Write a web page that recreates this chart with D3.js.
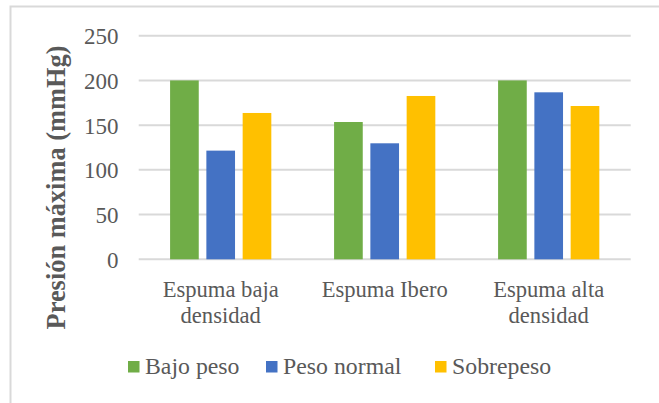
<!DOCTYPE html>
<html>
<head>
<meta charset="utf-8">
<script src="https://cdn.jsdelivr.net/npm/d3@7"></script>
<style>
  html, body { margin: 0; padding: 0; background: #fff; }
  svg { display: block; }
  svg text { font-family: "Liberation Serif", "Times New Roman", Times, serif; }
</style>
</head>
<body>
<svg id="chart" width="659" height="403"></svg>
<script>
const categories = [["Espuma baja", "densidad"], ["Espuma Ibero"], ["Espuma alta", "densidad"]];
const seriesNames = ["Bajo peso", "Peso normal", "Sobrepeso"];
const colors = ["#70ad47", "#4472c4", "#ffc000"];
const bajoPeso = [200, 153.5, 200];
const pesoNormal = [121.5, 129.7, 186.7];
const sobrepeso = [163.6, 182.6, 171.4];
const yTicks = [0, 50, 100, 150, 200, 250];
const yTitle = "Presión máxima (mmHg)";

(function () {
const series = [bajoPeso, pesoNormal, sobrepeso];
const svg = d3.select("#chart");
const textColor = "#595959";

// chart border
svg.append("rect").attr("x", 10.5).attr("y", 6.5).attr("width", 660).attr("height", 410)
  .attr("fill", "none").attr("stroke", "#d9d9d9").attr("stroke-width", 2);

const pLeft = 138.7, pRight = 630.7, pTop = 35.7, pBottom = 259.3;
const y = d3.scaleLinear().domain([0, 250]).range([pBottom, pTop]);
const catIdx = categories.map((d, i) => i);
const x0 = d3.scaleBand().domain(catIdx).range([pLeft, pRight]).padding(0);
const x1 = d3.scaleBand().domain(d3.range(series.length)).range([0, x0.bandwidth()])
  .paddingInner(0.21).paddingOuter(0.865);

// gridlines
svg.append("g").selectAll("line").data(yTicks).join("line")
  .attr("x1", pLeft).attr("x2", pRight)
  .attr("y1", d => y(d)).attr("y2", d => y(d))
  .attr("stroke", "#d9d9d9").attr("stroke-width", 2);

// y tick labels
svg.append("g").selectAll("text").data(yTicks).join("text")
  .attr("x", 118.5).attr("y", d => y(d) + 8.6)
  .attr("text-anchor", "end")
  .style("font-size", "23px").attr("fill", textColor)
  .text(d => d);

// bars
series.forEach((vals, si) => {
  svg.append("g").selectAll("rect").data(vals).join("rect")
    .attr("x", (d, i) => x0(i) + x1(si))
    .attr("width", x1.bandwidth())
    .attr("y", d => y(d))
    .attr("height", d => y(0) - y(d))
    .attr("fill", colors[si]);
});

// category labels
categories.forEach((lines, i) => {
  const cx = x0(i) + x0.bandwidth() / 2;
  const t = svg.append("text").attr("text-anchor", "middle")
    .style("font-size", "22.6px").attr("fill", textColor);
  lines.forEach((ln, j) => {
    t.append("tspan").attr("x", cx).attr("y", 296.5 + j * 26.6).text(ln);
  });
});

// y title
svg.append("text")
  .attr("transform", "translate(65,187.5) rotate(-90)")
  .attr("text-anchor", "middle")
  .style("font-size", "26.4px").style("font-weight", "bold")
  .attr("fill", textColor)
  .text(yTitle);

// legend
const legendX = [128, 266, 435];
const lg = svg.append("g");
seriesNames.forEach((name, i) => {
  lg.append("rect").attr("x", legendX[i]).attr("y", 361).attr("width", 11.5).attr("height", 11.5)
    .attr("fill", colors[i]);
  lg.append("text").attr("x", legendX[i] + 17).attr("y", 374)
    .style("font-size", "23.8px").attr("fill", textColor)
    .text(name);
});
})();
</script>
</body>
</html>
